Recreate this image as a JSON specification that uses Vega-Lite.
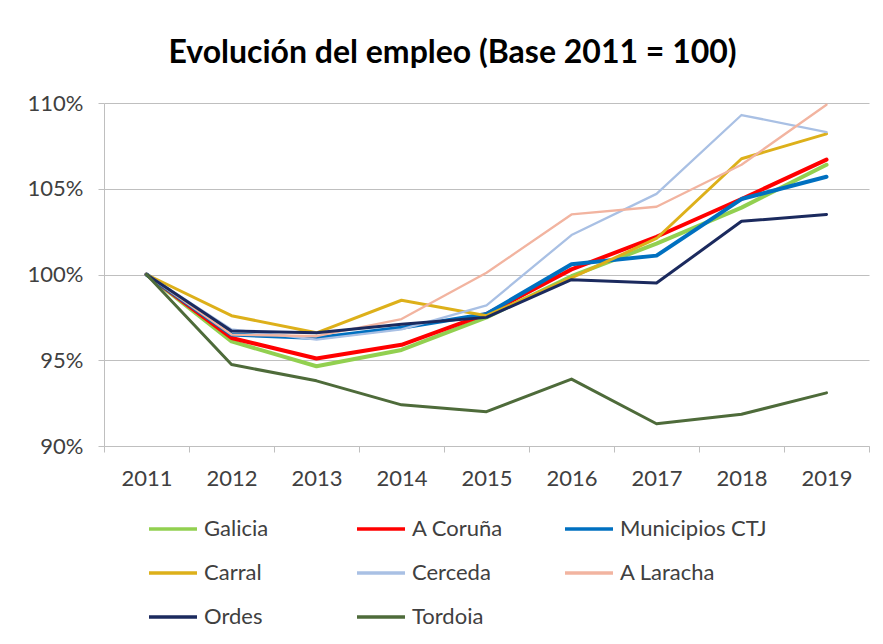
{
  "$schema": "https://vega.github.io/schema/vega-lite/v6.json",
  "width": 765,
  "height": 343,
  "padding": {"left": 27, "top": 37, "right": 5, "bottom": 0},
  "background": "white",
  "title": {
    "text": "Evolución del empleo (Base 2011 = 100)",
    "font": "Lato",
    "fontSize": 32,
    "fontWeight": "bold",
    "color": "#000000",
    "anchor": "middle",
    "dx": -34,
    "offset": 22
  },
  "data": {
    "values": [
      {"a": "2011", "s": "Galicia", "v": 100}, {"a": "2012", "s": "Galicia", "v": 96.1}, {"a": "2013", "s": "Galicia", "v": 94.65}, {"a": "2014", "s": "Galicia", "v": 95.6}, {"a": "2015", "s": "Galicia", "v": 97.5}, {"a": "2016", "s": "Galicia", "v": 99.9}, {"a": "2017", "s": "Galicia", "v": 101.8}, {"a": "2018", "s": "Galicia", "v": 103.9}, {"a": "2019", "s": "Galicia", "v": 106.4},
      {"a": "2011", "s": "A Coruña", "v": 100}, {"a": "2012", "s": "A Coruña", "v": 96.3}, {"a": "2013", "s": "A Coruña", "v": 95.1}, {"a": "2014", "s": "A Coruña", "v": 95.9}, {"a": "2015", "s": "A Coruña", "v": 97.7}, {"a": "2016", "s": "A Coruña", "v": 100.3}, {"a": "2017", "s": "A Coruña", "v": 102.2}, {"a": "2018", "s": "A Coruña", "v": 104.4}, {"a": "2019", "s": "A Coruña", "v": 106.7},
      {"a": "2011", "s": "Municipios CTJ", "v": 100}, {"a": "2012", "s": "Municipios CTJ", "v": 96.5}, {"a": "2013", "s": "Municipios CTJ", "v": 96.3}, {"a": "2014", "s": "Municipios CTJ", "v": 96.9}, {"a": "2015", "s": "Municipios CTJ", "v": 97.7}, {"a": "2016", "s": "Municipios CTJ", "v": 100.6}, {"a": "2017", "s": "Municipios CTJ", "v": 101.1}, {"a": "2018", "s": "Municipios CTJ", "v": 104.4}, {"a": "2019", "s": "Municipios CTJ", "v": 105.7},
      {"a": "2011", "s": "Carral", "v": 100}, {"a": "2012", "s": "Carral", "v": 97.6}, {"a": "2013", "s": "Carral", "v": 96.6}, {"a": "2014", "s": "Carral", "v": 98.5}, {"a": "2015", "s": "Carral", "v": 97.6}, {"a": "2016", "s": "Carral", "v": 99.8}, {"a": "2017", "s": "Carral", "v": 102.1}, {"a": "2018", "s": "Carral", "v": 106.75}, {"a": "2019", "s": "Carral", "v": 108.2},
      {"a": "2011", "s": "Cerceda", "v": 100}, {"a": "2012", "s": "Cerceda", "v": 96.8}, {"a": "2013", "s": "Cerceda", "v": 96.2}, {"a": "2014", "s": "Cerceda", "v": 96.8}, {"a": "2015", "s": "Cerceda", "v": 98.2}, {"a": "2016", "s": "Cerceda", "v": 102.3}, {"a": "2017", "s": "Cerceda", "v": 104.7}, {"a": "2018", "s": "Cerceda", "v": 109.3}, {"a": "2019", "s": "Cerceda", "v": 108.3},
      {"a": "2011", "s": "A Laracha", "v": 100}, {"a": "2012", "s": "A Laracha", "v": 96.5}, {"a": "2013", "s": "A Laracha", "v": 96.4}, {"a": "2014", "s": "A Laracha", "v": 97.4}, {"a": "2015", "s": "A Laracha", "v": 100.1}, {"a": "2016", "s": "A Laracha", "v": 103.5}, {"a": "2017", "s": "A Laracha", "v": 103.95}, {"a": "2018", "s": "A Laracha", "v": 106.4}, {"a": "2019", "s": "A Laracha", "v": 109.9},
      {"a": "2011", "s": "Ordes", "v": 100}, {"a": "2012", "s": "Ordes", "v": 96.7}, {"a": "2013", "s": "Ordes", "v": 96.6}, {"a": "2014", "s": "Ordes", "v": 97.1}, {"a": "2015", "s": "Ordes", "v": 97.5}, {"a": "2016", "s": "Ordes", "v": 99.7}, {"a": "2017", "s": "Ordes", "v": 99.5}, {"a": "2018", "s": "Ordes", "v": 103.1}, {"a": "2019", "s": "Ordes", "v": 103.5},
      {"a": "2011", "s": "Tordoia", "v": 100}, {"a": "2012", "s": "Tordoia", "v": 94.75}, {"a": "2013", "s": "Tordoia", "v": 93.8}, {"a": "2014", "s": "Tordoia", "v": 92.4}, {"a": "2015", "s": "Tordoia", "v": 92.0}, {"a": "2016", "s": "Tordoia", "v": 93.9}, {"a": "2017", "s": "Tordoia", "v": 91.3}, {"a": "2018", "s": "Tordoia", "v": 91.85}, {"a": "2019", "s": "Tordoia", "v": 93.1}
    ]
  },
  "mark": {"type": "line", "strokeCap": "round", "strokeJoin": "round"},
  "encoding": {
    "x": {
      "field": "a",
      "type": "ordinal",
      "scale": {"type": "band", "paddingInner": 0, "paddingOuter": 0},
      "axis": {
        "title": null,
        "labelAngle": 0,
        "tickBand": "extent",
        "grid": false,
        "domainColor": "#bfbfbf",
        "tickColor": "#bfbfbf",
        "tickSize": 6,
        "labelPadding": 16,
        "labelFont": "Lato",
        "labelFontSize": 22,
        "labelColor": "#404040"
      }
    },
    "y": {
      "field": "v",
      "type": "quantitative",
      "scale": {"domain": [90, 110], "nice": false, "zero": false},
      "axis": {
        "title": null,
        "values": [90, 95, 100, 105, 110],
        "labelExpr": "datum.value + '%'",
        "grid": true,
        "gridColor": "#bfbfbf",
        "domainColor": "#bfbfbf",
        "tickColor": "#bfbfbf",
        "tickSize": 6,
        "labelPadding": 15,
        "labelFont": "Lato",
        "labelFontSize": 22,
        "labelColor": "#404040"
      }
    },
    "color": {
      "field": "s",
      "type": "nominal",
      "sort": null,
      "scale": {
        "domain": ["Galicia", "A Coruña", "Municipios CTJ", "Carral", "Cerceda", "A Laracha", "Ordes", "Tordoia"],
        "range": ["#92D050", "#FF0000", "#0070C0", "#DDB01A", "#A9C0E4", "#F2B4A0", "#1B2A5E", "#4E6B3A"]
      },
      "legend": {
        "title": null,
        "orient": "none",
        "legendX": 43,
        "legendY": 400,
        "padding": 0,
        "columns": 3,
        "direction": "horizontal",
        "gridAlign": "all",
        "columnPadding": -1,
        "rowPadding": 7,
        "symbolType": "stroke",
        "symbolSize": 2304,
        "symbolStrokeWidth": 3.5,
        "labelOffset": 5,
        "labelFont": "Lato",
        "labelFontSize": 22,
        "labelColor": "#404040"
      }
    },
    "strokeWidth": {
      "condition": [
        {"test": "indexof(['Galicia','A Coruña','Municipios CTJ'], datum.s) >= 0", "value": 4},
        {"test": "indexof(['Cerceda','A Laracha'], datum.s) >= 0", "value": 2.3}
      ],
      "value": 3
    }
  },
  "config": {"view": {"stroke": null}}
}
